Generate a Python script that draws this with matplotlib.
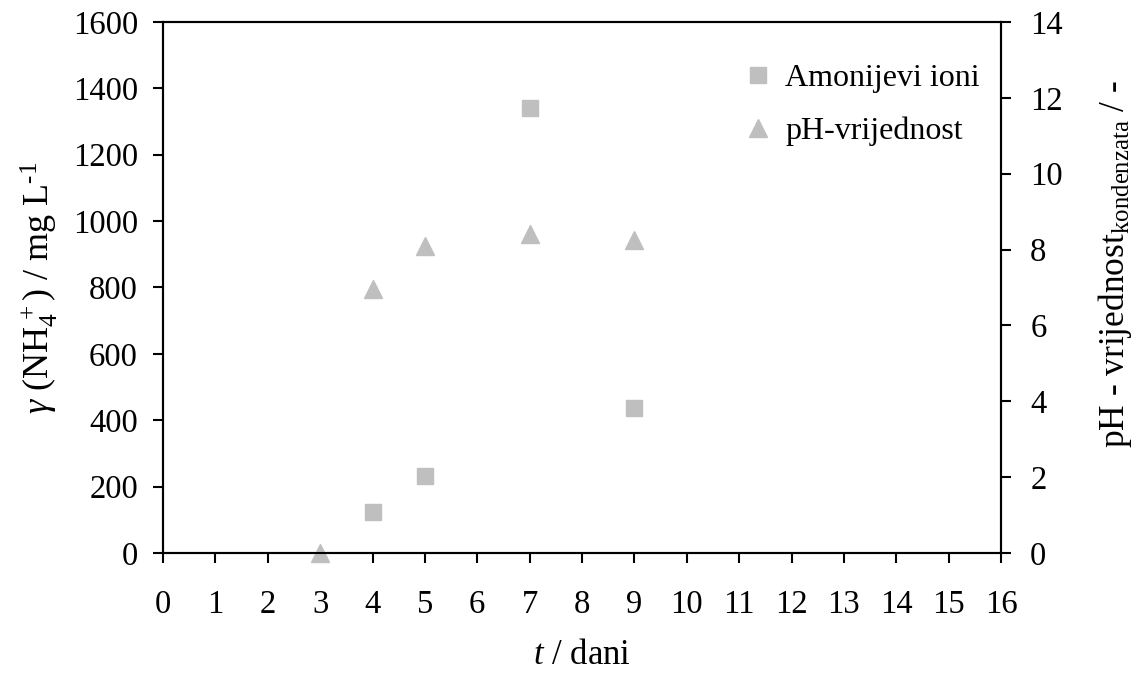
import numpy as np
from matplotlib import pyplot as plt

plt.rc('font', family='Liberation Serif', size=23.5)
plt.rc('mathtext', fontset='custom', rm='Liberation Serif',
       it='Liberation Serif:italic', bf='Liberation Serif:bold')
plt.rc('axes', linewidth=1.5)

# ammonium ion concentration, mg/L, by day
dani_amonij = [4, 5, 7, 9]
amonij = [125, 233, 1340, 437]
# condensate pH, by day
dani_ph = [3, 4, 5, 7, 9]
ph = [0, 6.95, 8.1, 8.4, 8.25]

grey = '#BFBFBF'

fig, ax = plt.subplots(figsize=(11.39, 6.74), dpi=100)
fig.subplots_adjust(left=0.1431, right=0.8789, bottom=0.1795, top=0.9674)
ax2 = ax.twinx()

l1, = ax.plot(dani_amonij, amonij, 's', color=grey, markersize=11.5,
              label='Amonijevi ioni', clip_on=False)
l2, = ax2.plot(dani_ph, ph, '^', color=grey, markersize=13,
               label='pH-vrijednost', clip_on=False)

ax.set_xlim(0, 16)
ax.set_ylim(0, 1600)
ax2.set_ylim(0, 14)
ax.set_xticks(range(0, 17))
ax.set_yticks(range(0, 1601, 200))
ax2.set_yticks(range(0, 15, 2))

for a in (ax, ax2):
    a.tick_params(direction='out', length=7, width=1.5)
ax.tick_params(axis='x', pad=19)
ax.tick_params(axis='y', pad=11)
ax2.tick_params(axis='y', pad=14)

ax.set_xlabel('$t$ / dani', fontsize=25, labelpad=14)
ax.set_ylabel('$\\gamma$ (NH$_4^{\\,+}$) / mg L$^{\u20101}$', fontsize=26, labelpad=9)
ax2.set_ylabel('pH - vrijednost$_{\\mathrm{kondenzata}}$ / -', fontsize=25.5,
               rotation=90, labelpad=24)
ax2.yaxis.label.set_y(0.545)

ax2.legend(handles=[l1, l2], loc='upper right', bbox_to_anchor=(1.024, 1),
           frameon=False, fontsize=23, handletextpad=0.35, handlelength=1.0,
           borderaxespad=0.9, labelspacing=0.75)

plt.savefig('out.png', dpi=100)
